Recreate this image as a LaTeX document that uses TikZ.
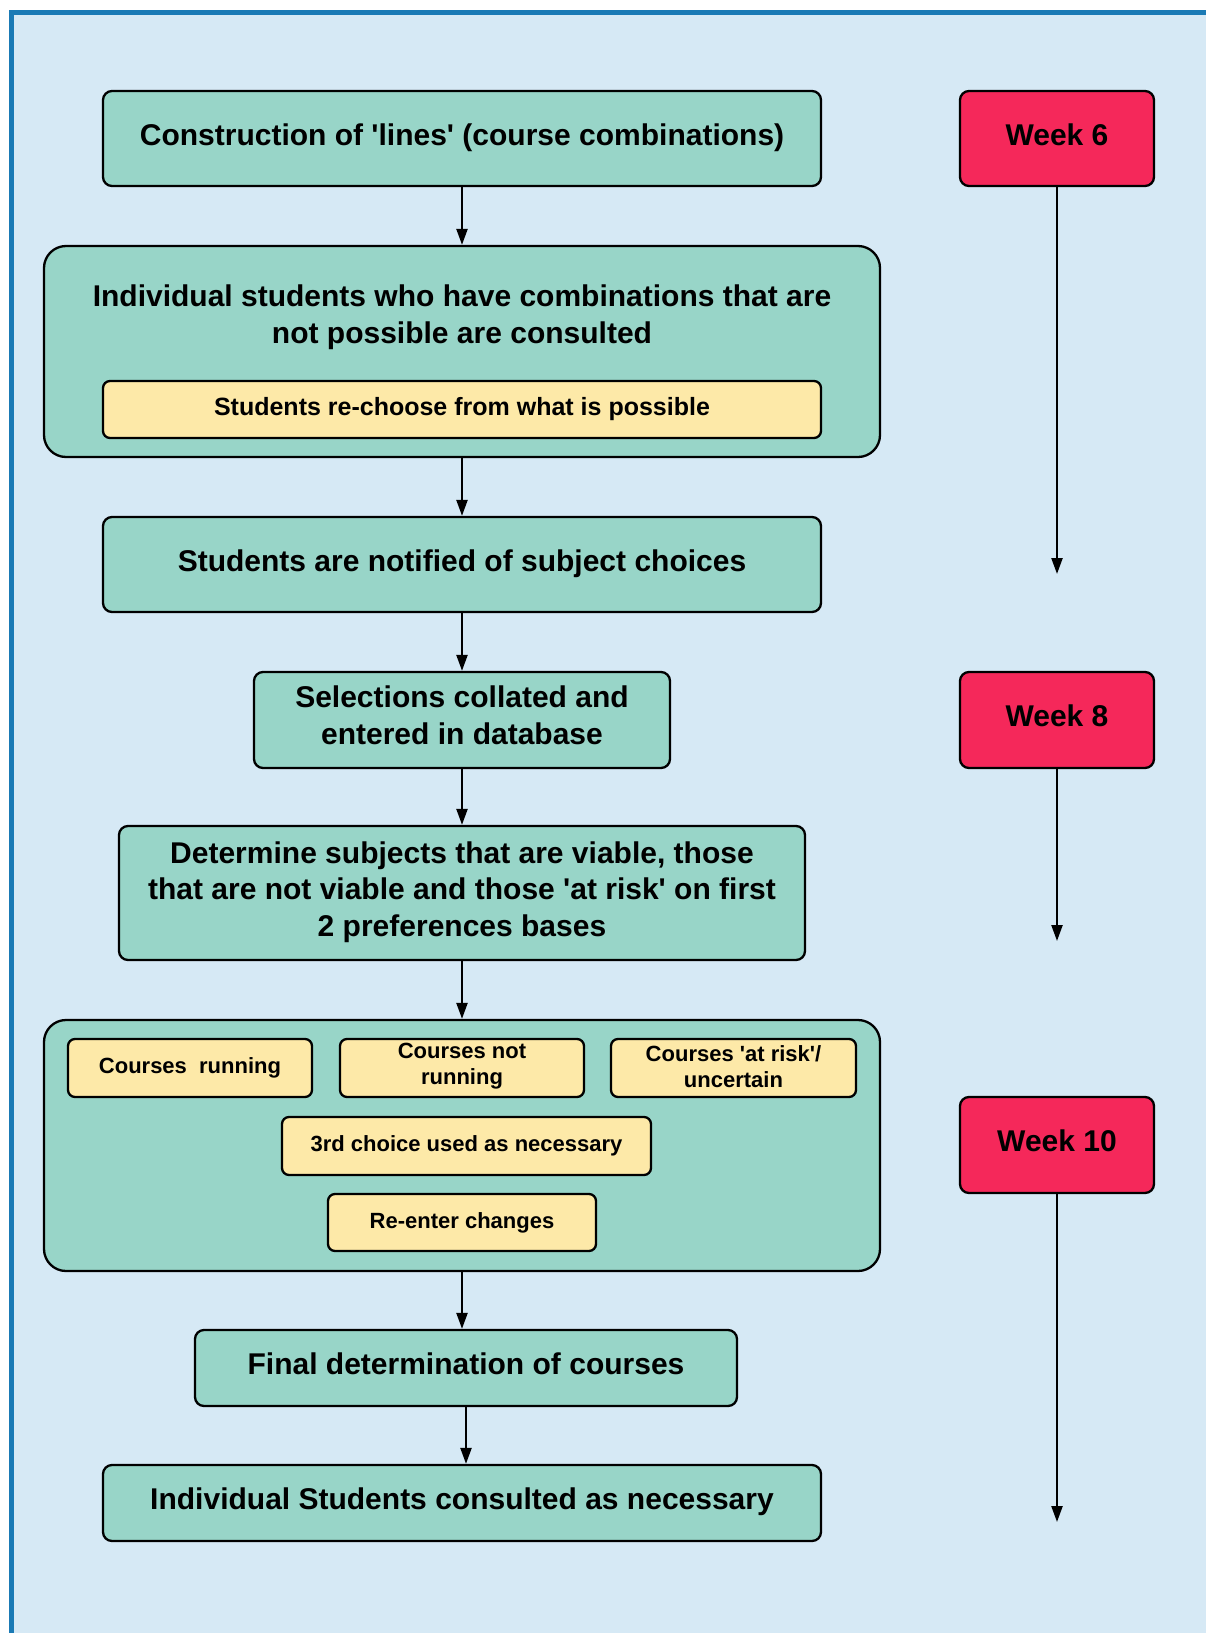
\documentclass[tikz,border=0pt]{standalone}
\usepackage{fontspec}
\setmainfont{Liberation Sans}
\usetikzlibrary{arrows.meta}
\definecolor{bg}{RGB}{214,233,245}
\definecolor{frame}{RGB}{26,122,181}
\definecolor{tealbox}{RGB}{152,213,200}
\definecolor{yel}{RGB}{253,233,168}
\definecolor{wk}{RGB}{245,40,90}
\newcommand{\sq}{\textquotesingle}
\tikzset{
 box/.style={draw=black, line width=2.3pt, fill=tealbox, rounded corners=9pt, inner sep=0pt, align=center, font=\fontsize{30}{36.5}\selectfont\bfseries},
 oneline/.style={text height=22pt, text depth=8.5pt},
 bigbox/.style={box, rounded corners=22pt},
 bigtext/.style={inner sep=0pt, align=center, font=\fontsize{30}{36.5}\selectfont\bfseries},
 ybox/.style={draw=black, line width=2.3pt, fill=yel, rounded corners=7pt, inner sep=0pt, align=center, font=\fontsize{22}{26}\selectfont\bfseries},
 yone/.style={text height=16pt, text depth=5pt},
 wkbox/.style={box, oneline, fill=wk},
 flow/.style={line width=2.3pt, -{Triangle[length=16pt,width=11pt]}},
}
\begin{document}
\begin{tikzpicture}[x=1pt,y=-1pt]
\useasboundingbox (0,0) rectangle (1206,1633);
\clip (0,0) rectangle (1206,1633);
\fill[white] (0,0) rectangle (1206,1633);
\fill[bg] (11.5,12.5) rectangle (1230,1660);
\draw[frame, line width=4.5pt] (11.5,1660) -- (11.5,12.5) -- (1230,12.5);

% left column
\node[box, oneline, minimum width=718pt, minimum height=95pt] (b1) at (462,138.5) {Construction of \sq lines\sq\ (course combinations)};
\node[bigbox, minimum width=836pt, minimum height=211pt] (b2) at (462,351.5) {};
\node[bigtext] (t2) at (462,317) {Individual students who have combinations that are\\not possible are consulted};
\node[ybox, yone, minimum width=718pt, minimum height=57pt, font=\fontsize{25}{30}\selectfont\bfseries] (y1) at (462,409.5) {Students re-choose from what is possible};
\node[box, oneline, minimum width=718pt, minimum height=95pt] (b3) at (462,564.5) {Students are notified of subject choices};
\node[box, minimum width=416pt, minimum height=96pt] (b4) at (462,720) {};
\node[bigtext] (t4) at (462,715.3) {Selections collated and\\entered in database};
\node[box, minimum width=686pt, minimum height=134pt] (b5) at (462,893) {};
\node[bigtext] (t5) at (462,892) {Determine subjects that are viable, those\\that are not viable and those \sq at risk\sq\ on first\\2 preferences bases};
\node[bigbox, minimum width=836pt, minimum height=251pt] (b6) at (462,1145.5) {};
\node[ybox, yone, minimum width=244pt, minimum height=58pt] (cr) at (190,1068) {Courses\ \ running};
\node[ybox, minimum width=244pt, minimum height=58pt] (cnr) at (462,1068) {};
\node[inner sep=0pt, align=center, font=\fontsize{22}{26}\selectfont\bfseries] (tnr) at (462,1066.5) {Courses not\\running};
\node[ybox, minimum width=245pt, minimum height=58pt] (car) at (733.5,1068) {};
\node[inner sep=0pt, align=center, font=\fontsize{22}{26}\selectfont\bfseries] (tar) at (733.5,1066.5) {Courses \sq at risk\sq/\\uncertain};
\node[ybox, yone, minimum width=369pt, minimum height=58pt] (c3) at (466.5,1146) {3rd choice used as necessary};
\node[ybox, yone, minimum width=268pt, minimum height=57pt] (re) at (462,1222.5) {Re-enter changes};
\node[box, oneline, minimum width=542pt, minimum height=76pt] (b7) at (466,1368) {Final determination of courses};
\node[box, oneline, minimum width=718pt, minimum height=76pt] (b8) at (462,1503) {Individual Students consulted as necessary};

% week column
\node[wkbox, minimum width=194pt, minimum height=95pt] (w6) at (1057,138.5) {Week 6};
\node[wkbox, minimum width=194pt, minimum height=96pt] (w8) at (1057,720) {Week 8};
\node[wkbox, minimum width=194pt, minimum height=96pt] (w10) at (1057,1145) {Week 10};
\coordinate (e6) at (1057,574);
\coordinate (e8) at (1057,941);
\coordinate (e10) at (1057,1522);

% connectors
\draw[flow] (b1) -- (b2);
\draw[flow] (b2) -- (b3);
\draw[flow] (b3) -- (b4);
\draw[flow] (b4) -- (b5);
\draw[flow] (b5) -- (b6);
\draw[flow] (b6.south) -- (b6.south |- b7.north);
\draw[flow] (b7.south) -- (b7.south |- b8.north);
\draw[flow] (w6) -- (e6);
\draw[flow] (w8) -- (e8);
\draw[flow] (w10) -- (e10);
\end{tikzpicture}
\end{document}
